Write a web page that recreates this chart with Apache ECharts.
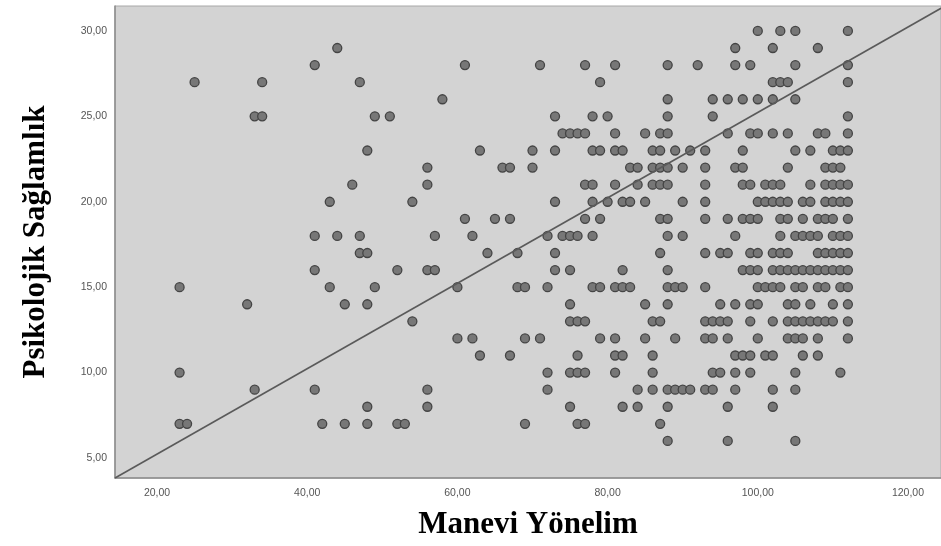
<!DOCTYPE html>
<html>
<head>
<meta charset="utf-8">
<script src="https://cdn.jsdelivr.net/npm/echarts@6/dist/echarts.min.js"></script>
<style>
  html, body { margin: 0; background: #fff; }
  #chart { width: 941px; height: 546px; }
</style>
</head>
<body>
<div id="chart"></div>
<script>
// Psikolojik Saglamlik levels (y) and the Manevi Yonelim scores (x) seen at each level
const yLevels = [30, 29, 28, 27, 26, 25, 24, 23, 22, 21, 20, 19, 18, 17, 16, 15, 14, 13, 12, 11, 10, 9, 8, 7, 6];
const xAtLevel = [
  [100, 103, 105, 112],
  [44, 97, 102, 108],
  [41, 61, 71, 77, 81, 88, 92, 97, 99, 105, 112],
  [25, 34, 47, 79, 102, 103, 104, 112],
  [58, 88, 94, 96, 98, 100, 102, 105],
  [33, 34, 49, 51, 73, 78, 80, 88, 94, 112],
  [74, 75, 76, 77, 81, 85, 87, 88, 96, 99, 100, 102, 104, 108, 109, 112],
  [48, 63, 70, 73, 78, 79, 81, 82, 86, 87, 89, 91, 93, 98, 105, 107, 110, 111, 112],
  [56, 66, 67, 70, 83, 84, 86, 87, 88, 90, 93, 97, 98, 104, 109, 110, 111],
  [46, 56, 77, 78, 81, 84, 86, 87, 88, 93, 98, 99, 101, 102, 103, 107, 109, 110, 111, 112],
  [43, 54, 73, 78, 80, 82, 83, 85, 90, 93, 100, 101, 102, 103, 104, 106, 107, 109, 110, 111, 112],
  [61, 65, 67, 77, 79, 87, 88, 93, 96, 98, 99, 100, 103, 104, 106, 108, 109, 110, 112],
  [41, 44, 47, 57, 62, 72, 74, 75, 76, 78, 88, 90, 97, 103, 105, 106, 107, 108, 110, 111, 112],
  [47, 48, 64, 68, 73, 87, 93, 95, 96, 99, 100, 102, 103, 104, 108, 109, 110, 111, 112],
  [41, 52, 56, 57, 73, 75, 82, 88, 98, 99, 100, 102, 103, 104, 105, 106, 107, 108, 109, 110, 111, 112],
  [23, 43, 49, 60, 68, 69, 72, 78, 79, 81, 82, 83, 88, 89, 90, 93, 100, 101, 102, 103, 105, 106, 108, 109, 111, 112],
  [32, 45, 48, 75, 85, 88, 95, 97, 99, 100, 104, 105, 107, 110, 112],
  [54, 75, 76, 77, 86, 87, 93, 94, 95, 96, 99, 102, 104, 105, 106, 107, 108, 109, 110, 112],
  [60, 62, 69, 71, 79, 81, 85, 89, 93, 94, 96, 100, 104, 105, 106, 108, 112],
  [63, 67, 76, 81, 82, 86, 97, 98, 99, 101, 102, 106, 108],
  [23, 72, 75, 76, 77, 81, 86, 94, 95, 97, 99, 105, 111],
  [33, 41, 56, 72, 84, 86, 88, 89, 90, 91, 93, 94, 97, 102, 105],
  [48, 56, 75, 82, 84, 88, 96, 102],
  [23, 24, 42, 45, 48, 52, 53, 69, 76, 77, 87],
  [88, 96, 105]
];
const xTicks = [20, 40, 60, 80, 100, 120];
const yTicks = [5, 10, 15, 20, 25, 30];
// diagonal reference line, end points
const lineX = [14.4, 124.4];
const lineY = [3.83, 31.33];

const points = [];
yLevels.forEach(function (y, i) {
  xAtLevel[i].forEach(function (x) { points.push([x, y]); });
});

function fmt(v) { return v.toFixed(2).replace('.', ','); }

const myChart = echarts.init(document.getElementById('chart'));
const option = {
  animation: false,
  backgroundColor: '#ffffff',
  grid: {
    left: 115, right: 0, top: 6, bottom: 68,
    show: true,
    backgroundColor: '#d3d3d3',
    borderColor: '#a8a8a8',
    borderWidth: 1,
    outerBoundsMode: 'none'
  },
  xAxis: {
    type: 'value',
    min: lineX[0],
    max: lineX[1],
    name: 'Manevi Yönelim',
    nameLocation: 'middle',
    nameGap: 31,
    nameTextStyle: {
      fontFamily: 'Liberation Serif', fontWeight: 'bold', fontSize: 31, color: '#000'
    },
    axisLine: { show: true, lineStyle: { color: '#8c8c8c', width: 1.5 } },
    axisTick: { show: false },
    splitLine: { show: false },
    axisLabel: {
      customValues: xTicks,
      formatter: fmt,
      margin: 10,
      fontFamily: 'Liberation Sans', fontSize: 10.5, color: '#555'
    }
  },
  yAxis: {
    type: 'value',
    min: lineY[0],
    max: 31.46,
    name: 'Psikolojik Sağlamlık',
    nameLocation: 'middle',
    nameRotate: 90,
    nameGap: 64,
    nameTextStyle: {
      fontFamily: 'Liberation Serif', fontWeight: 'bold', fontSize: 31, color: '#000'
    },
    axisLine: { show: true, lineStyle: { color: '#8c8c8c', width: 1.5 } },
    axisTick: { show: false },
    splitLine: { show: false },
    axisLabel: {
      customValues: yTicks,
      formatter: fmt,
      margin: 8,
      fontFamily: 'Liberation Sans', fontSize: 10.5, color: '#555'
    }
  },
  series: [
    {
      type: 'scatter',
      data: points,
      symbol: 'circle',
      symbolSize: 9,
      itemStyle: { color: '#777777', borderColor: '#444444', borderWidth: 1.3, opacity: 1 },
      z: 2
    },
    {
      type: 'line',
      data: [[lineX[0], lineY[0]], [lineX[1], lineY[1]]],
      showSymbol: false,
      symbol: 'none',
      lineStyle: { color: '#5a5a5a', width: 1.6 },
      z: 3
    }
  ]
};
myChart.setOption(option);
</script>
</body>
</html>
